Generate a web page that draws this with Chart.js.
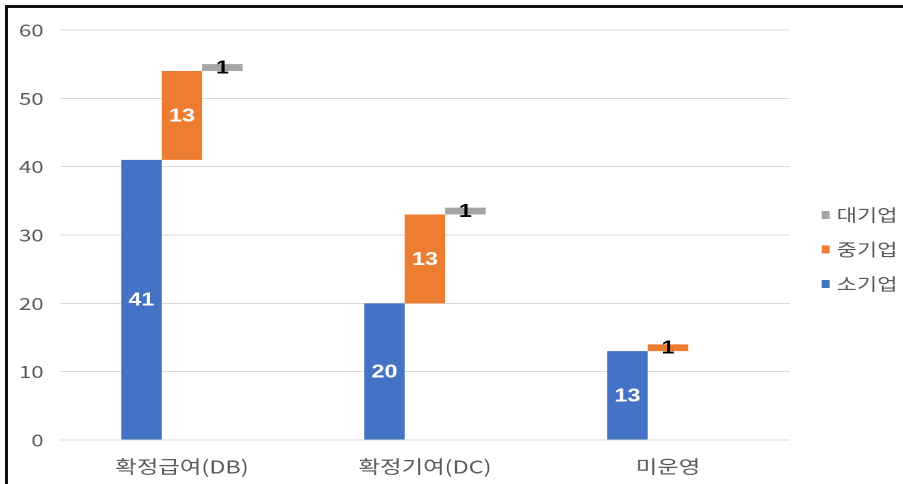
<!DOCTYPE html>
<html>
<head>
<meta charset="utf-8">
<script src="https://cdn.jsdelivr.net/npm/chart.js@4/dist/chart.umd.min.js"></script>
<style>
  html, body { margin: 0; padding: 0; background: #fff; }
  #wrap { position: relative; width: 903px; height: 484px; overflow: hidden; }
  /* the original picture is stretched sideways, so the chart is drawn narrow and widened */
  #stretch { position: absolute; left: 0; top: 0; width: 695px; height: 484px;
             transform: scaleX(1.3); transform-origin: 0 0; }
  #frame { position: absolute; left: 5px; top: 5px; right: 0; bottom: 0;
           border-left: 3px solid #111; border-top: 3px solid #111; pointer-events: none; }
</style>
</head>
<body>
<div id="wrap">
  <div id="stretch"><canvas id="myChart" width="695" height="484" style="width:695px;height:484px"></canvas></div>
  <div id="frame"></div>
</div>
<script>
// data
const categories = ["확정급여(DB)", "확정기여(DC)", "미운영"];
const seriesNames = ["소기업", "중기업", "대기업"];
const small = [41, 20, 13];
const medium = [13, 13, 1];
const large = [1, 1, null];
const yTicks = [0, 10, 20, 30, 40, 50, 60];
const barColors = ["#4472C4", "#ED7D31", "#A5A5A5"];

// floating bars: each series starts where the previous one ended
const raw = [small, medium, large];
const base = [0, 0, 0];
const datasets = raw.map((vals, i) => {
  const d = vals.map((v, j) => {
    if (v === null) return null;
    const r = [base[j], base[j] + v];
    base[j] += v;
    return r;
  });
  return {
    label: seriesNames[i],
    data: d,
    values: vals,
    backgroundColor: barColors[i],
    categoryPercentage: 0.5,
    barPercentage: 1.0,
  };
});

const labelFont = "'Noto Sans CJK KR', 'Noto Sans', sans-serif";

// value labels inside the bars
const barLabels = {
  id: "barLabels",
  afterDatasetsDraw(chart) {
    const ctx = chart.ctx;
    ctx.save();
    ctx.font = "bold 18px 'Liberation Sans', Arial, sans-serif";
    ctx.textAlign = "center";
    ctx.textBaseline = "middle";
    chart.data.datasets.forEach((ds, i) => {
      chart.getDatasetMeta(i).data.forEach((bar, j) => {
        const v = ds.values[j];
        if (v === null || v === undefined) return;
        const cy = (bar.y + bar.base) / 2;
        ctx.fillStyle = v < 3 ? "#000" : "#fff";
        ctx.fillText(String(v), bar.x, cy + 1);
      });
    });
    ctx.restore();
  },
};

// legend on the right, reversed order
const sideLegend = {
  id: "sideLegend",
  afterDraw(chart) {
    const ctx = chart.ctx;
    ctx.save();
    ctx.font = "17px " + labelFont;
    ctx.textBaseline = "middle";
    ctx.textAlign = "left";
    const order = [2, 1, 0];
    order.forEach((k, n) => {
      const y = 215 + n * 34.5;
      ctx.fillStyle = barColors[k];
      ctx.fillRect(632, y - 4, 6.2, 8);
      ctx.fillStyle = "#595959";
      ctx.fillText(seriesNames[k], 643.5, y);
    });
    ctx.restore();
  },
};

new Chart("myChart", {
  type: "bar",
  data: { labels: categories, datasets: datasets },
  options: {
    responsive: false,
    animation: false,
    devicePixelRatio: 2,
    layout: { padding: { left: 6.5, right: 87.7, top: 30, bottom: 0 } },
    plugins: {
      legend: { display: false },
      tooltip: { enabled: false },
    },
    scales: {
      x: {
        grid: { display: false },
        border: { display: false },
        ticks: { color: "#595959", font: { family: labelFont, size: 18 }, padding: 8 },
        afterFit(scale) { scale.height = 44; },
      },
      y: {
        min: 0,
        max: 60,
        afterBuildTicks(scale) { scale.ticks = yTicks.map(v => ({ value: v })); },
        grid: { color: "#d9d9d9", lineWidth: 1, drawTicks: false },
        border: { display: false },
        ticks: { color: "#595959", font: { family: labelFont, size: 17 }, padding: 13 },
        afterFit(scale) { scale.width = 40; },
      },
    },
  },
  plugins: [barLabels, sideLegend],
});
</script>
</body>
</html>
